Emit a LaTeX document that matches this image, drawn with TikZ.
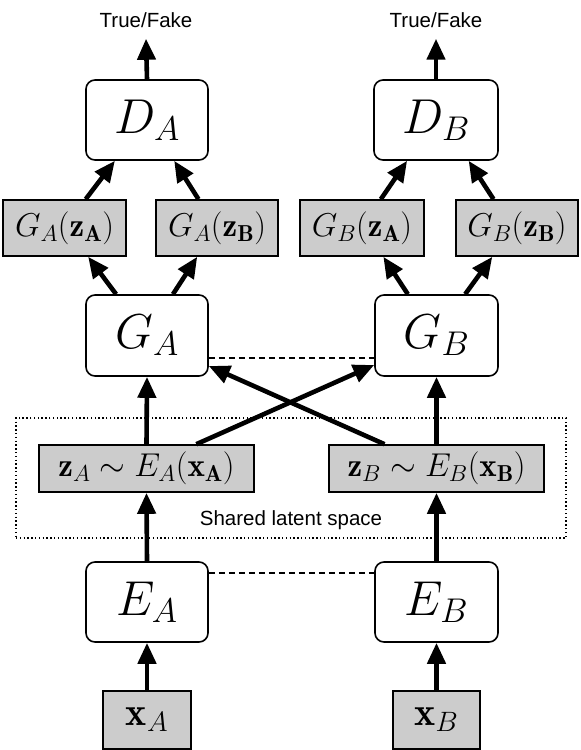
\RequirePackage{fix-cm}
\documentclass[tikz,border=0pt]{standalone}
\usepackage{fontspec}
\newfontfamily\hv{Liberation Sans}
\usetikzlibrary{arrows.meta,calc}
\definecolor{boxgrey}{HTML}{CCCCCC}
\begin{document}
\begin{tikzpicture}[x=1pt,y=-1pt,
  box/.style={draw,line width=1.6pt,rounded corners=9pt,fill=white,minimum width=122pt,minimum height=80pt,inner sep=0pt,font=\fontsize{49}{50}\selectfont},
  gbox/.style={draw,line width=1.6pt,fill=boxgrey,inner sep=0pt,font=\fontsize{33}{34}\selectfont},
  arr/.style={line width=4.6pt,-{Triangle[length=21pt,width=18pt]}},
  lbl/.style={font=\hv\fontsize{20.5}{22}\selectfont,inner sep=0pt},
  dashline/.style={line width=1.4pt,dash pattern=on 6pt off 4pt}
]
\useasboundingbox (0,0) rectangle (581,750);

% shared latent space frame
\node[draw,line width=1.4pt,dash pattern=on 1.4pt off 2.4pt,minimum width=550pt,minimum height=120pt,inner sep=0pt] (lat) at (291,478) {};
\node[lbl] (latlbl) at (291,520) {Shared latent space};

% discriminators
\node[box] (DA) at (147,120) {$D_A$};
\node[box,minimum width=124pt] (DB) at (436,120) {$D_B$};
\node[lbl] (TFA) at (146,20) {True/Fake};
\node[lbl] (TFB) at (436,20) {True/Fake};

% generated images
\node[gbox,minimum width=123pt,minimum height=56pt] (GAzA) at (64.5,228) {$G_A(\mathbf{z}_{\mathbf{A}})$};
\node[gbox,minimum width=122pt,minimum height=56pt] (GAzB) at (217,228) {$G_A(\mathbf{z}_{\mathbf{B}})$};
\node[gbox,minimum width=124pt,minimum height=56pt] (GBzA) at (362,228) {$G_B(\mathbf{z}_{\mathbf{A}})$};
\node[gbox,minimum width=122pt,minimum height=56pt] (GBzB) at (517,228) {$G_B(\mathbf{z}_{\mathbf{B}})$};

% generators
\node[box,minimum height=81pt] (GA) at (147,335.5) {$G_A$};
\node[box,minimum width=123pt,minimum height=81pt] (GB) at (436.5,335.5) {$G_B$};

% latent codes
\node[gbox,minimum width=215pt,minimum height=47pt] (zA) at (146.5,468.5) {$\mathbf{z}_A\sim E_A(\mathbf{x}_{\mathbf{A}})$};
\node[gbox,minimum width=215pt,minimum height=47pt] (zB) at (436.5,468.5) {$\mathbf{z}_B\sim E_B(\mathbf{x}_{\mathbf{B}})$};

% encoders
\node[box] (EA) at (147,602) {$E_A$};
\node[box,minimum width=123pt] (EB) at (436.5,602) {$E_B$};

% inputs
\node[gbox,minimum width=88pt,minimum height=58pt,font=\fontsize{40}{41}\selectfont] (xA) at (147,720) {$\mathbf{x}_A$};
\node[gbox,minimum width=87pt,minimum height=58pt,font=\fontsize{40}{41}\selectfont] (xB) at (436.5,720) {$\mathbf{x}_B$};

% dashed weight-sharing links
\draw[dashline] ($(GA.east)+(0,22.5)$) -- ($(GB.west)+(0,22.5)$);
\draw[dashline] ($(EA.east)+(0,-29)$) -- ($(EB.west)+(0,-29)$);

% arrows
\draw[arr] (DA.north) -- ([yshift=-11pt]TFA.south);
\draw[arr] (DB.north) -- ([yshift=-11pt]TFB.south);

\draw[arr] ($(GAzA.north west)!0.67!(GAzA.north east)$) -- ($(DA.south west)!0.24!(DA.south east)$);
\draw[arr] ($(GAzB.north west)!0.35!(GAzB.north east)$) -- ($(DA.south west)!0.72!(DA.south east)$);
\draw[arr] ($(GBzA.north west)!0.65!(GBzA.north east)$) -- ($(DB.south west)!0.27!(DB.south east)$);
\draw[arr] ($(GBzB.north west)!0.31!(GBzB.north east)$) -- ($(DB.south west)!0.76!(DB.south east)$);

\draw[arr] ($(GA.north west)!0.25!(GA.north east)$) -- ($(GAzA.south west)!0.69!(GAzA.south east)$);
\draw[arr] ($(GA.north west)!0.71!(GA.north east)$) -- ($(GAzB.south west)!0.34!(GAzB.south east)$);
\draw[arr] ($(GB.north west)!0.27!(GB.north east)$) -- ($(GBzA.south west)!0.67!(GBzA.south east)$);
\draw[arr] ($(GB.north west)!0.73!(GB.north east)$) -- ($(GBzB.south west)!0.30!(GBzB.south east)$);

\draw[arr] (zA.north) -- (GA.south);
\draw[arr] (zB.north) -- (GB.south);
\draw[arr] ($(zA.north west)!0.73!(zA.north east)$) -- ($(GB.west)+(0,29.5)$);
\draw[arr] ($(zB.north west)!0.26!(zB.north east)$) -- ($(GA.east)+(0,30.5)$);

\draw[arr] (EA.north) -- (zA.south);
\draw[arr] (EB.north) -- (zB.south);
\draw[arr] (xA.north) -- (EA.south);
\draw[arr] (xB.north) -- (EB.south);
\end{tikzpicture}
\end{document}
